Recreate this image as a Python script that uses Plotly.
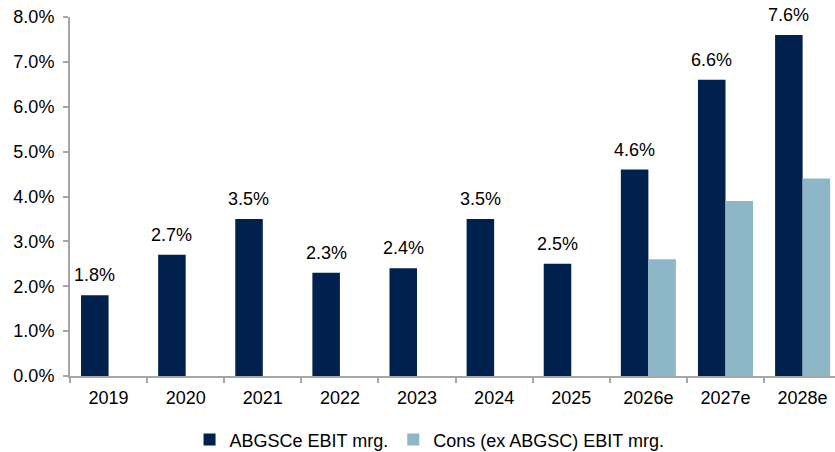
import plotly.graph_objects as go

# Categories and series
years = ["2019", "2020", "2021", "2022", "2023", "2024", "2025", "2026e", "2027e", "2028e"]
abgsc_ebit = [1.8, 2.7, 3.5, 2.3, 2.4, 3.5, 2.5, 4.6, 6.6, 7.6]
cons_ebit = [None, None, None, None, None, None, None, 2.6, 3.9, 4.4]
y_ticks = [0, 1, 2, 3, 4, 5, 6, 7, 8]

DARK = "#00214D"
LIGHT = "#8DB7C7"
AXIS = "#A6A6A6"
FONT = "Liberation Sans, Arial, sans-serif"
FS = 18

fig = go.Figure()
fig.add_trace(go.Bar(x=years, y=abgsc_ebit, name="ABGSCe EBIT mrg.",
                     marker=dict(color=DARK, line=dict(width=0))))
fig.add_trace(go.Bar(x=years, y=cons_ebit, name="Cons (ex ABGSC) EBIT mrg.",
                     marker=dict(color=LIGHT, line=dict(width=0))))

# Value labels above the ABGSCe bars (left bar of each group);
# category positions are given by index so year-like names stay categories
for i, v in enumerate(abgsc_ebit):
    fig.add_annotation(x=i, y=v, text=f"{v:.1f}%", showarrow=False,
                       xref="x", yref="y", xanchor="center", yanchor="bottom",
                       xshift=-13.8, yshift=8,
                       font=dict(family=FONT, size=FS, color="#000000"))

fig.update_layout(
    width=835, height=452,
    margin=dict(l=70, r=0, t=17, b=76, autoexpand=False),
    paper_bgcolor="white", plot_bgcolor="white",
    barmode="group", bargap=0.286, bargroupgap=0,
    font=dict(family=FONT, size=FS, color="#000000"),
    showlegend=True,
    legend=dict(orientation="h", x=0.47, xanchor="center", y=-0.178, yanchor="middle",
                font=dict(family=FONT, size=FS, color="#000000"),
                itemwidth=30, traceorder="normal"),
)
fig.update_xaxes(
    type="category", range=[-0.5, 9.42],
    showline=True, linecolor=AXIS, linewidth=2,
    ticks="outside", tickson="boundaries", ticklen=5, tickcolor=AXIS, tickwidth=2,
    ticklabelstandoff=4,
    showgrid=False, tickfont=dict(family=FONT, size=FS, color="#000000"),
)
fig.update_yaxes(
    range=[0, 8], tickvals=y_ticks, ticktext=[f"{t:.1f}%" for t in y_ticks],
    showline=True, linecolor=AXIS, linewidth=2,
    ticks="outside", ticklen=5, tickcolor=AXIS, tickwidth=2,
    ticklabelstandoff=5,
    showgrid=False, zeroline=False,
    tickfont=dict(family=FONT, size=FS, color="#000000"),
)

fig.write_html("out.html")
